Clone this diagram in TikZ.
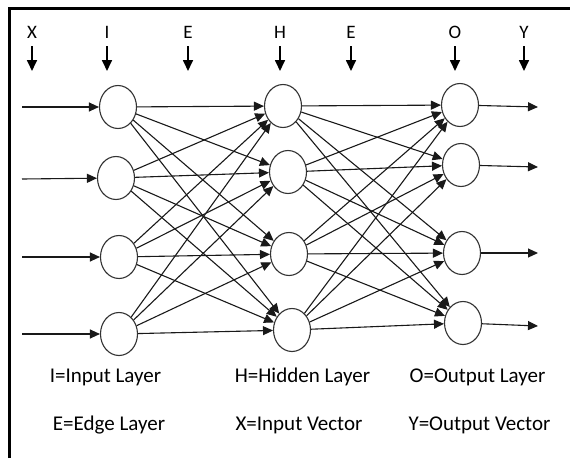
\documentclass[tikz,border=0pt]{standalone}
\usepackage{fontspec}
\setmainfont{Carlito}
\usetikzlibrary{arrows.meta,shapes.geometric}
\begin{document}
\begin{tikzpicture}[x=1pt,y=-1pt,
  neuron/.style={ellipse,draw=black!80,line width=1.1pt,minimum width=37pt,
    minimum height=43pt,inner sep=0pt,fill=white},
  link/.style={line width=1.1pt,draw=black!90,-{Triangle[length=10pt,width=9pt]}},
  pointer/.style={line width=1.7pt,-{Triangle[length=11pt,width=10pt]}},
  toplabel/.style={font=\fontsize{19}{22}\selectfont,inner sep=1pt},
  legend/.style={font=\fontsize{21}{24}\selectfont,inner sep=0pt}]
\useasboundingbox (0,0) rectangle (570,458);
\fill[white] (0,0) rectangle (570,458);
% frame (top and left edges)
\draw[line width=2.6pt] (9.5,458) -- (9.5,8.5) -- (570,8.5);

% layer labels along the top
\foreach \n/\t/\x in {lx/X/32, li/I/107, le1/E/188, lh/H/280, le2/E/351, lo/O/455, ly/Y/524}{
  \node[toplabel] (\n) at (\x,32) {\t};
  \coordinate (\n tip) at (\x,71);
  \draw[pointer] (\n.south) ++(0,7) -- (\n tip);
}

% neurons
\node[neuron] (i1) at (118,107) {};
\node[neuron] (i2) at (116,178) {};
\node[neuron] (i3) at (119,257) {};
\node[neuron] (i4) at (119,334) {};
\node[neuron] (h1) at (283,106) {};
\node[neuron] (h2) at (288,172) {};
\node[neuron] (h3) at (289,254) {};
\node[neuron] (h4) at (292,330) {};
\node[neuron] (o1) at (460,105) {};
\node[neuron] (o2) at (461,165) {};
\node[neuron] (o3) at (462,253) {};
\node[neuron] (o4) at (463,323) {};

% input vector
\foreach \k/\y in {1/107,2/179,3/257,4/334}{
  \coordinate (in\k) at (22,\y);
  \draw[link] (in\k) -- (i\k);
}
% output vector
\foreach \k/\y in {1/107,2/167,3/253,4/326}{
  \coordinate (out\k) at (538,\y);
  \draw[link] (o\k) -- (out\k);
}

% edge layers: full connections
\foreach \a in {1,2,3,4}{
  \foreach \b in {1,2,3,4}{
    \draw[link] (i\a) -- (h\b);
    \draw[link] (h\a) -- (o\b);
  }
}

% legend
\node[legend] (t1) at (105.5,377) {I=Input Layer};
\node[legend] (t2) at (302.5,377) {H=Hidden Layer};
\node[legend] (t3) at (477.5,377) {O=Output Layer};
\node[legend] (t4) at (109,425) {E=Edge Layer};
\node[legend] (t5) at (299,425) {X=Input Vector};
\node[legend] (t6) at (479.5,425) {Y=Output Vector};
\end{tikzpicture}
\end{document}
